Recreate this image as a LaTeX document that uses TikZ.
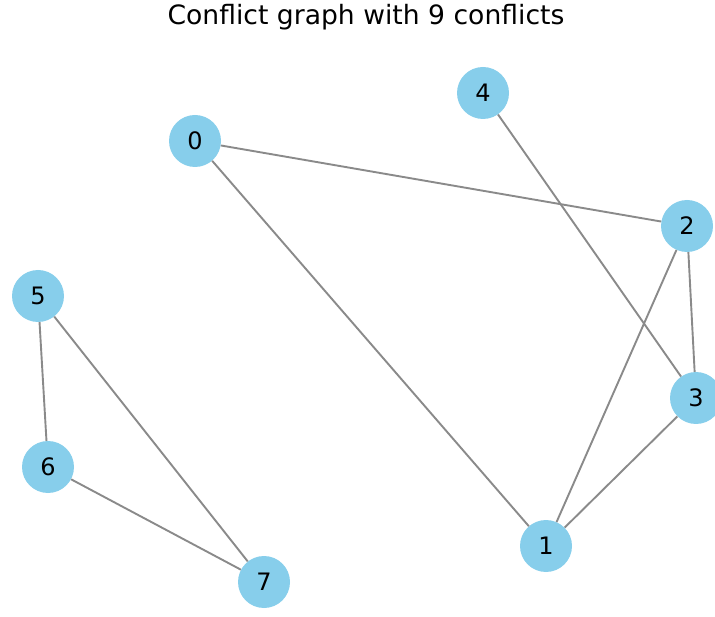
\documentclass[tikz,border=0pt]{standalone}
\usepackage{fontspec}
\setmainfont{DejaVu Sans}
\definecolor{skyblue}{HTML}{87CEEB}
\definecolor{edgegray}{HTML}{8A8A8A}
\begin{document}
\begin{tikzpicture}[x=1pt,y=-1pt,
  vtx/.style={circle,fill=skyblue,minimum size=52pt,inner sep=0pt,font=\fontsize{24}{24}\selectfont},
  edge/.style={draw=edgegray,line width=1.9pt}]
\useasboundingbox (0,0) rectangle (715,617);
\begin{scope}
\clip (0,0) rectangle (715,617);
\node[font=\fontsize{26.6}{29}\selectfont] (title) at (366,17) {Conflict graph with 9 conflicts};
\node[vtx] (n0) at (195,141) {0};
\node[vtx] (n4) at (483,93) {4};
\node[vtx] (n2) at (687,226) {2};
\node[vtx] (n5) at (38,296) {5};
\node[vtx] (n3) at (696,398) {3};
\node[vtx] (n6) at (48,467) {6};
\node[vtx] (n1) at (546,546) {1};
\node[vtx] (n7) at (264,582) {7};
\path[edge] (n0) -- (n2);
\path[edge] (n0) -- (n1);
\path[edge] (n4) -- (n3);
\path[edge] (n2) -- (n3);
\path[edge] (n2) -- (n1);
\path[edge] (n3) -- (n1);
\path[edge] (n5) -- (n6);
\path[edge] (n5) -- (n7);
\path[edge] (n6) -- (n7);
\end{scope}
\end{tikzpicture}
\end{document}
